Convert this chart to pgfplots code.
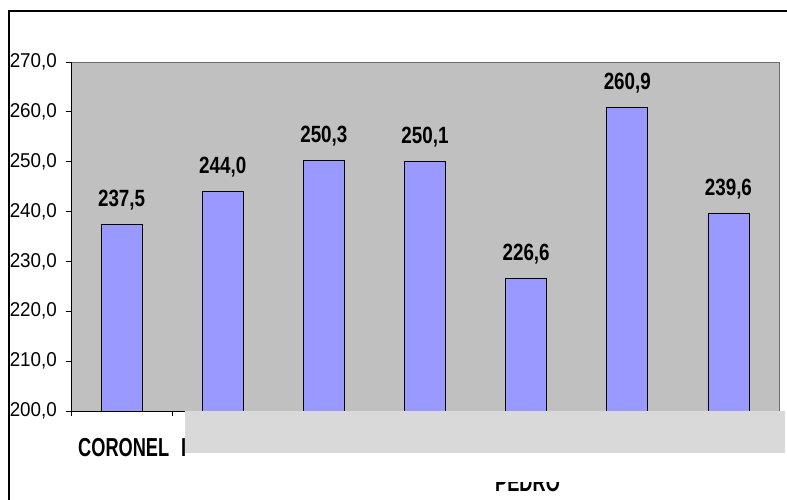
\documentclass[border=0pt]{standalone}
\usepackage{pgfplots}
\pgfplotsset{compat=1.18}
\usepackage{fontspec}
\setmainfont{Liberation Sans}
\newfontfamily\narrowfont[FakeStretch=0.8]{Liberation Sans}
\newfontfamily\catfont[FakeStretch=0.7]{Liberation Sans}
\newfontfamily\tickfont[FakeStretch=0.94]{Liberation Sans}
\definecolor{plotbg}{HTML}{C0C0C0}
\definecolor{barfill}{HTML}{9999FF}
\definecolor{boxgray}{HTML}{D9D9D9}

\begin{document}
\begin{tikzpicture}[x=1pt,y=1pt]
\useasboundingbox (0,0) rectangle (787,500);

% outer frame (cut by the image edge)
\draw[black, line width=1.6pt] (9,0) -- (9,489) -- (787,489);

\begin{axis}[
    at={(71pt,89pt)}, anchor=south west,
    scale only axis,
    width=708pt, height=349pt,
    xmin=-0.5, xmax=6.5,
    ymin=200, ymax=270,
    axis x line*=bottom, axis y line*=left,
    axis line style={black, line width=0.8pt},
    axis background/.style={fill=plotbg, draw=gray!85!black, line width=0.6pt},
    xtick={-0.5,0.5,...,6.5}, xticklabels={},
    ytick={200,210,...,270},
    yticklabels={200{,}0,210{,}0,220{,}0,230{,}0,240{,}0,250{,}0,260{,}0,270{,}0},
    yticklabel style={font=\tickfont\fontsize{20}{20}\selectfont, anchor=east, inner sep=0pt, xshift=-9pt},
    tick align=outside, major tick length=5pt,
    tick style={black, line width=0.8pt},
    ybar, bar width=41pt,
    nodes near coords,
    point meta=explicit symbolic,
    every node near coord/.append style={font=\narrowfont\bfseries\fontsize{23.5}{24}\selectfont, anchor=base, yshift=18pt, inner sep=0pt},
]
\addplot[fill=barfill, draw=black, line width=0.8pt] coordinates {
    (0,237.5) [237{,}5]
    (1,244.0) [244{,}0]
    (2,250.3) [250{,}3]
    (3,250.1) [250{,}1]
    (4,226.6) [226{,}6]
    (5,260.9) [260{,}9]
    (6,239.6) [239{,}6]
};
\end{axis}

% category labels, mostly hidden behind the gray box
\node[anchor=base west, inner sep=0pt, font=\catfont\bfseries\fontsize{26}{26}\selectfont] at (78,43) {CORONEL};
\node[anchor=base west, inner sep=0pt, font=\catfont\bfseries\fontsize{26}{26}\selectfont] at (181,43) {I};
\fill[boxgray] (185,89) rectangle (785,47);
\node[anchor=base west, inner sep=0pt, font=\catfont\bfseries\fontsize{26}{26}\selectfont] at (495,8) {PEDRO};
\fill[white] (485,18) rectangle (575,32);
\end{tikzpicture}
\end{document}
